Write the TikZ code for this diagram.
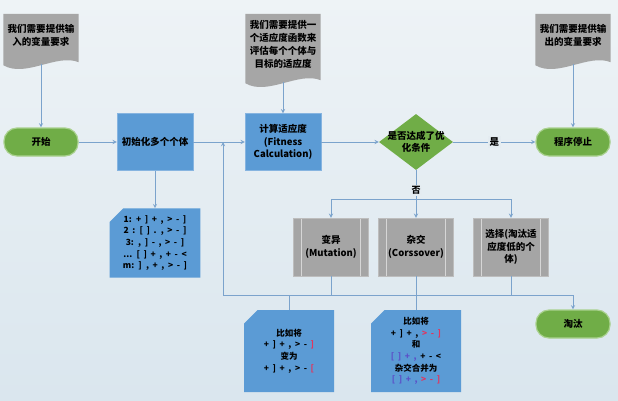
\documentclass[tikz,border=0pt]{standalone}
\usepackage{fontspec}
\setmainfont{Noto Sans CJK SC}
\usepackage{tikz}
\usetikzlibrary{shapes.geometric, shapes.misc, arrows, backgrounds}

\definecolor{bgtop}{HTML}{EEF3F6}
\definecolor{bgbot}{HTML}{DAE6EE}
\definecolor{bgmid}{HTML}{E4ECF1}
\definecolor{termgreen}{HTML}{70AD47}
\definecolor{termedge}{HTML}{A9D18E}
\definecolor{boxblue}{HTML}{5B9BD5}
\definecolor{boxedge}{HTML}{86B4E0}
\definecolor{opgray}{HTML}{A5A5A5}
\definecolor{opedge}{HTML}{BDBDBD}
\definecolor{opline}{HTML}{D6D6D6}
\definecolor{docgray}{HTML}{A6A6A6}
\definecolor{linec}{HTML}{7BA3CC}
\definecolor{notered}{HTML}{E0355F}
\definecolor{notepurple}{HTML}{5B4FC8}

\newcommand{\notefont}{\fontsize{8.5}{11.6}\selectfont\bfseries\spaceskip=3.6pt plus 1pt\relax}

\tikzstyle{terminal} = [rectangle, rounded corners=13pt, minimum width=74pt, minimum height=28pt, text centered, draw=termedge, line width=1.2pt, fill=termgreen, font=\fontsize{9.5}{12}\selectfont\bfseries]
\tikzstyle{process} = [rectangle, minimum width=76pt, minimum height=57pt, align=center, draw=boxedge, fill=boxblue, font=\fontsize{9.5}{12.5}\selectfont\bfseries]
\tikzstyle{decision} = [diamond, aspect=1.33, minimum width=74pt, minimum height=56pt, inner sep=-6pt, align=center, fill=termgreen, font=\fontsize{9.5}{12}\selectfont\bfseries]
\tikzstyle{predef} = [rectangle, minimum width=75pt, minimum height=58pt, align=center, draw=opedge, fill=opgray, font=\fontsize{9.5}{12.5}\selectfont\bfseries, path picture={\draw [opline, line width=0.8pt] ([xshift=8pt]path picture bounding box.north west) -- ([xshift=8pt]path picture bounding box.south west) ([xshift=-8pt]path picture bounding box.north east) -- ([xshift=-8pt]path picture bounding box.south east);}]
\tikzstyle{note} = [chamfered rectangle, chamfered rectangle corners=north west, chamfered rectangle xsep=10pt, minimum width=90pt, minimum height=68pt, align=center, fill=boxblue, font=\notefont]
\tikzstyle{docu} = [rectangle, minimum width=75pt, text width=68pt, align=center, font=\fontsize{9.5}{13}\selectfont\bfseries]
\tikzstyle{link} = [line width=0.9pt, draw=linec]
\tikzstyle{arrow} = [line width=0.9pt, draw=linec, ->, >=stealth]

\begin{document}
\begin{tikzpicture}[x=1pt, y=1pt, node distance=100pt]
	\useasboundingbox (0,0) rectangle (618,-400);
	\node (start) [terminal] at (41,-142) {开始};
	\node (init) [process, right of=start, node distance=114pt] {初始化多个个体};
	\node (fit) [process, right of=init, node distance=128pt] {计算适应度\\(Fitness\\Calculation)};
	\node (dec) [decision, right of=fit, node distance=133pt] {是否达成了优\\化条件};
	\node (stop) [terminal, right of=dec, node distance=157pt] {程序停止};
	\node (doc1) [docu, minimum height=42pt, above of=start, node distance=107pt] {我们需要提供输\\入的变量要求};
	\node (doc2) [docu, minimum height=60pt, above of=fit, node distance=98pt] {我们需要提供一\\个适应度函数来\\评估每个个体与\\目标的适应度};
	\node (doc3) [docu, minimum height=42pt, above of=stop, node distance=107pt] {我们需要提供输\\出的变量要求};
	\node (pop) [note, below of=init, node distance=101pt] {1: + ] + , > - ]\\2 : [ ] . , > - ]\\3: , ] - , > - ]\\... [ ] + , + - <\\m: ] , + , > - ]};
	\node (cross) [predef, below of=dec, node distance=105pt] {杂交\\(Corssover)};
	\node (mut) [predef, left of=cross, node distance=85pt] {变异\\(Mutation)};
	\node (sel) [predef, right of=cross, node distance=95pt] {选择(淘汰适\\应度低的个\\体)};
	\node (kill) [terminal, below of=stop, node distance=182pt] {淘汰};
	\node (crossnote) [note, minimum height=82pt, below of=cross, node distance=104pt] {比如将\\+ ] + , \textcolor{notered}{> - ]}\\和\\\textcolor{notepurple}{[ ] + ,} + - <\\杂交合并为\\\textcolor{notepurple}{[ ] + ,} \textcolor{notered}{> - ]}};
	\node (mutnote) [note, minimum height=82pt, left of=crossnote, node distance=127pt] {比如将\\+ ] + , > - \textcolor{notered}{]}\\变为\\+ ] + , > - \textcolor{notered}{[}};
	\coordinate (split) at (416,-199);
	\coordinate (loop) at (223,-295);
	\coordinate (back) at (223,-142);

	\draw [arrow, shorten <=8pt] (doc1) -- (start);
	\draw [arrow, shorten <=8pt] (doc2) -- (fit);
	\draw [arrow, shorten <=8pt] (doc3) -- (stop);
	\draw [arrow] (start) -- (init);
	\draw [arrow] (init) -- (fit);
	\draw [arrow] (fit) -- (dec);
	\draw [arrow] (dec) -- node [fill=bgmid, inner sep=1.5pt, font=\fontsize{9.5}{12}\selectfont\bfseries] {是} (stop);
	\draw [arrow] (init) -- (pop);
	\draw [link] (dec) -- node [pos=0.7, fill=bgmid, inner sep=1.5pt, font=\fontsize{9}{12}\selectfont\bfseries] {否} (split);
	\draw [arrow] (split) -| (mut);
	\draw [arrow] (split) -- (cross);
	\draw [arrow] (split) -| (sel);
	\draw [link] (mut) -- (mut |- loop);
	\draw [link] (sel) -- (sel |- loop);
	\draw [link] (cross) -- (crossnote);
	\draw [link] (mutnote) -- (mutnote |- loop);
	\draw [arrow] (loop) -| (kill);
	\draw [arrow] (loop) -- (back);

	\begin{pgfonlayer}{background}
		\shade [top color=bgtop, bottom color=bgbot] (0,0) rectangle (618,-400);
		\foreach \d in {doc1,doc2,doc3}
			\fill [docgray] (\d.north west) -- (\d.north east) -- ([yshift=-6pt]\d.south east) .. controls ([xshift=-22pt, yshift=3pt]\d.south east) and ([xshift=22pt, yshift=-22pt]\d.south west) .. ([yshift=-9pt]\d.south west) -- cycle;
	\end{pgfonlayer}
\end{tikzpicture}
\end{document}
